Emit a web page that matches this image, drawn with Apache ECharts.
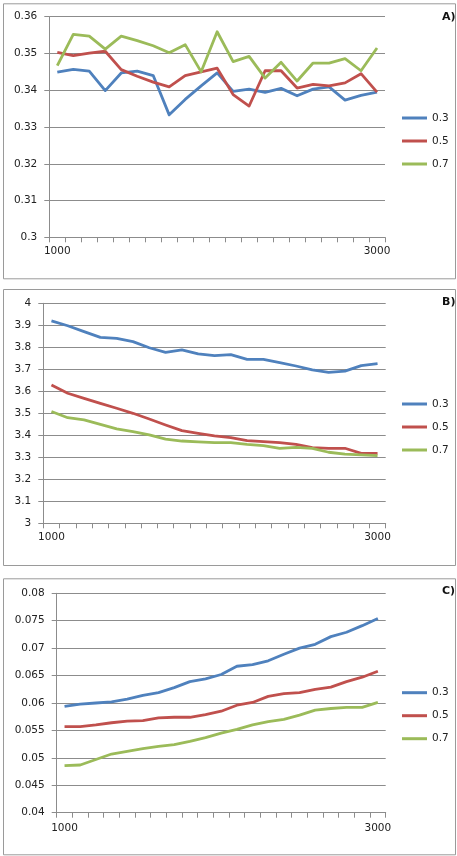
<!DOCTYPE html>
<html>
<head>
<meta charset="utf-8">
<script src="https://cdn.jsdelivr.net/npm/echarts@6/dist/echarts.min.js"></script>
<style>
  body { margin: 0; background: #fff; }
  #chart { width: 457px; height: 856px; }
</style>
</head>
<body>
<div id="chart"></div>
<script>
// categories on the x axis (only first and last are labelled)
var categories = [1000, 1100, 1200, 1300, 1400, 1500, 1600, 1700, 1800, 1900, 2000,
                  2100, 2200, 2300, 2400, 2500, 2600, 2700, 2800, 2900, 3000];
var seriesNames = ['0.3', '0.5', '0.7'];

// panel A
var aBlue  = [0.3449, 0.3457, 0.3452, 0.3399, 0.3447, 0.3452, 0.3440, 0.3333, 0.3375, 0.3412, 0.3447,
              0.3397, 0.3403, 0.3394, 0.3405, 0.3385, 0.3403, 0.3409, 0.3373, 0.3386, 0.3395];
var aRed   = [0.3503, 0.3494, 0.3501, 0.3506, 0.3456, 0.3438, 0.3422, 0.3409, 0.3440, 0.3450, 0.3460,
              0.3388, 0.3357, 0.3453, 0.3453, 0.3406, 0.3416, 0.3412, 0.3420, 0.3445, 0.3395];
var aGreen = [0.3467, 0.3552, 0.3547, 0.3512, 0.3547, 0.3535, 0.3521, 0.3502, 0.3524, 0.3450, 0.3559,
              0.3478, 0.3492, 0.3433, 0.3476, 0.3425, 0.3474, 0.3474, 0.3486, 0.3453, 0.3515];

// panel B
var bBlue  = [3.920, 3.898, 3.871, 3.845, 3.841, 3.826, 3.798, 3.777, 3.788, 3.770, 3.762,
              3.767, 3.745, 3.745, 3.730, 3.715, 3.697, 3.686, 3.692, 3.717, 3.726];
var bRed   = [3.629, 3.591, 3.568, 3.545, 3.523, 3.500, 3.474, 3.447, 3.421, 3.409, 3.397,
              3.389, 3.376, 3.371, 3.367, 3.359, 3.344, 3.341, 3.341, 3.318, 3.318];
var bGreen = [3.508, 3.480, 3.470, 3.450, 3.429, 3.417, 3.402, 3.383, 3.374, 3.370, 3.367,
              3.367, 3.359, 3.353, 3.341, 3.345, 3.341, 3.323, 3.314, 3.311, 3.308];

// panel C
var cBlue  = [0.0594, 0.0598, 0.0600, 0.0602, 0.0607, 0.0614, 0.0619, 0.0628, 0.0639, 0.0644, 0.0652,
              0.0667, 0.0670, 0.0677, 0.0689, 0.0700, 0.0707, 0.0721, 0.0729, 0.0741, 0.0754];
var cRed   = [0.0557, 0.0557, 0.0560, 0.0564, 0.0567, 0.0568, 0.0573, 0.0574, 0.0574, 0.0579, 0.0585,
              0.0596, 0.0601, 0.0612, 0.0617, 0.0619, 0.0625, 0.0629, 0.0639, 0.0647, 0.0658];
var cGreen = [0.0486, 0.0487, 0.0497, 0.0507, 0.0512, 0.0517, 0.0521, 0.0524, 0.0530, 0.0537, 0.0545,
              0.0552, 0.0560, 0.0566, 0.0570, 0.0578, 0.0587, 0.0590, 0.0592, 0.0592, 0.0601];

var colors = ['#4F81BD', '#C0504D', '#9BBB59'];
var gray = '#8c8c8c';
var font = 'DejaVu Sans';

var panels = [
  { name: 'A)', data: [aBlue, aRed, aGreen], min: 0.3, max: 0.36, interval: 0.01,
    grid: { left: 49.3, top: 16.7, width: 335.7, height: 220.6 },
    box: [3, 3.3, 452, 275], titleY: 17.5, legendTop: 111, xMargin: 8 },
  { name: 'B)', data: [bBlue, bRed, bGreen], min: 3, max: 4, interval: 0.1,
    grid: { left: 43.3, top: 303.3, width: 342.4, height: 220 },
    box: [3, 289, 452, 276], titleY: 302, legendTop: 397, xMargin: 8.5 },
  { name: 'C)', data: [cBlue, cRed, cGreen], min: 0.04, max: 0.08, interval: 0.005,
    grid: { left: 56.7, top: 593.3, width: 329, height: 219.4 },
    box: [3, 578.3, 452, 276], titleY: 591, legendTop: 685.7, xMargin: 10 }
];

var grids = [], xAxes = [], yAxes = [], legends = [], series = [], graphics = [];

panels.forEach(function (p, i) {
  grids.push(p.grid);
  xAxes.push({
    type: 'category',
    gridIndex: i,
    data: categories,
    boundaryGap: true,
    axisLine: { lineStyle: { color: gray, width: 1 } },
    axisTick: { show: true, interval: 0, length: 5, lineStyle: { color: gray } },
    axisLabel: { interval: 19, margin: p.xMargin, color: '#222', fontFamily: font, fontSize: 10.5 },
    splitLine: { show: false }
  });
  yAxes.push({
    type: 'value',
    gridIndex: i,
    min: p.min,
    max: p.max,
    interval: p.interval,
    axisLine: { show: true, lineStyle: { color: gray, width: 1 } },
    axisTick: { show: true, length: 5, lineStyle: { color: gray } },
    axisLabel: { margin: 12, color: '#222', fontFamily: font, fontSize: 10.5 },
    splitLine: { show: true, lineStyle: { color: gray, width: 1 } }
  });
  legends.push({
    data: seriesNames,
    orient: 'vertical',
    left: 402,
    top: p.legendTop,
    padding: 0,
    icon: 'rect',
    itemWidth: 25,
    itemHeight: 3,
    itemGap: 9,
    selectedMode: false,
    textStyle: { color: '#222', fontFamily: font, fontSize: 10.5, lineHeight: 14, padding: [0, 0, 0, 0] }
  });
  p.data.forEach(function (vals, k) {
    series.push({
      name: seriesNames[k],
      type: 'line',
      xAxisIndex: i,
      yAxisIndex: i,
      data: vals,
      symbol: 'none',
      smooth: false,
      lineStyle: { color: colors[k], width: 2.8, join: 'round' },
      itemStyle: { color: colors[k] },
      z: 3 + k
    });
  });
  graphics.push({
    type: 'rect',
    shape: { x: p.box[0] + 0.5, y: p.box[1] + 0.5, width: p.box[2], height: p.box[3] },
    style: { fill: 'none', stroke: '#9a9a9a', lineWidth: 1 },
    silent: true
  });
  graphics.push({
    type: 'text',
    x: 442,
    y: p.titleY,
    style: { text: p.name, font: 'bold 11px "DejaVu Sans"', fill: '#111', verticalAlign: 'middle', align: 'left' }
  });
});

var chart = echarts.init(document.getElementById('chart'));
chart.setOption({
  backgroundColor: '#fff',
  animation: false,
  grid: grids,
  xAxis: xAxes,
  yAxis: yAxes,
  legend: legends,
  series: series,
  graphic: graphics
});
</script>
</body>
</html>
